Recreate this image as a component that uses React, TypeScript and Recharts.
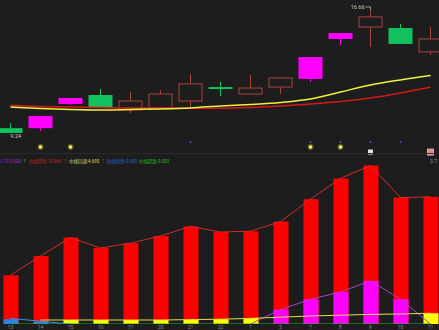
import { Bar, ComposedChart, Line, Scatter, XAxis, YAxis } from 'recharts';

// 日期标签
const days = ['13', '14', '15', '16', '17', '20', '21', '22', '1', '3', '7', '8', '9', '10', '11'];

// K线
const openP = [9.53, 9.53, 10.99, 11.53, 10.63, 10.75, 11.17, 12.01, 11.59, 12.01, 12.5, 14.91, 15.63, 15.57, 14.13];
const closeP = [9.24, 10.27, 11.35, 10.75, 11.17, 11.59, 12.2, 11.89, 11.95, 12.56, 13.82, 15.27, 16.24, 14.61, 14.91];
const highP = [9.84, 10.27, 11.35, 11.89, 11.71, 11.83, 12.8, 12.32, 12.74, 12.56, 13.82, 15.27, 16.66, 15.82, 15.63];
const lowP = [9.24, 9.35, 10.93, 10.75, 10.45, 10.75, 10.75, 11.47, 11.59, 11.59, 12.32, 14.55, 14.43, 14.61, 13.95];
const candleKind = ['down', 'hot', 'hot', 'down', 'up', 'up', 'up', 'down', 'up', 'up', 'hot', 'hot', 'up', 'down', 'up'];

// 均线
const maYellow = [10.81, 10.72, 10.66, 10.63, 10.66, 10.69, 10.75, 10.87, 10.96, 11.08, 11.29, 11.71, 12.13, 12.44, 12.71];
const maRed = [10.9, 10.84, 10.81, 10.78, 10.75, 10.75, 10.73, 10.73, 10.78, 10.87, 10.99, 11.14, 11.35, 11.65, 12.01];

// 信号
const yellowSignal = [1, 2, 10, 11];
const purpleSignal = [6, 10, 11, 12, 13];
const whiteSignal = [12];
const pinkSignal = [14];

// 副图
const trendRed = [6.1, 8.5, 10.8, 9.5, 10.1, 11.0, 12.2, 11.5, 11.6, 12.8, 15.6, 18.2, 19.8, 15.8, 15.9];
const pullPink = [null, null, null, null, null, null, null, null, null, 1.8, 3.1, 4.0, 5.4, 3.1, null];
const pullLine = [null, null, null, null, null, null, null, null, 0, 1.8, 3.1, 4.0, 5.4, 3.1, 0];
const yellowBar = [null, null, 0.5, 0.5, 0.5, 0.5, 0.5, 0.6, 0.75, null, null, null, null, null, 1.35];
const yellowLine = [null, 0.5, 0.5, 0.5, 0.5, 0.5, 0.55, 0.6, 0.7, 0.85, 1.0, 1.1, 1.2, 1.25, 1.35];
const blueBar = [0.6, 0.3, null, null, null, null, null, null, null, null, null, null, null, null, null];
const blueLine = [0.7, 0.35, 0, null, null, null, null, null, null, null, null, null, null, null, null];
const greenLine = [0, 0, 0, 0, 0, 0, 0, 0, 0, 0, 0, 0, 0, 0, 0];

const BG = '#1d1d1d';
const UP = '#a8463e';
const DOWN = '#12c25e';
const HOT = '#ff00ff';

const maxHigh = Math.max(...highP);
const minLow = Math.min(...lowP);

const kData = days.map((d, i) => ({
  i,
  d,
  open: openP[i],
  close: closeP[i],
  high: highP[i],
  low: lowP[i],
  kind: candleKind[i],
  range: [lowP[i], highP[i]],
  ma1: maYellow[i],
  ma2: maRed[i],
}));

const subData = days.map((d, i) => ({
  i,
  d,
  red: trendRed[i],
  pink: pullPink[i],
  pinkLine: pullLine[i],
  yel: yellowBar[i],
  yelLine: yellowLine[i],
  blue: blueBar[i],
  blueLine: blueLine[i],
  green: greenLine[i],
}));

const xDomain = [-0.35, 14.283];
const allTicks = days.map((_, i) => i);

function Candle(props: any) {
  const { x, y, width, height, payload } = props;
  if (x == null || y == null) return null;
  const { open, close, high, low, kind } = payload;
  const top0 = Math.min(y, y + height);
  const h = Math.abs(height);
  const k = h / (high - low || 1);
  const cx = x + width / 2;
  const bTop = top0 + (high - Math.max(open, close)) * k;
  const bBot = top0 + (high - Math.min(open, close)) * k;
  const bh = Math.max(bBot - bTop, 2);
  const col = kind === 'up' ? UP : kind === 'down' ? DOWN : HOT;
  return (
    <g>
      <line x1={cx} x2={cx} y1={top0} y2={bTop} stroke={col} strokeWidth={1} />
      <line x1={cx} x2={cx} y1={bTop + bh} y2={top0 + h} stroke={col} strokeWidth={1} />
      {kind === 'up' ? (
        <rect x={x + 0.5} y={bTop} width={width - 1} height={bh} fill={BG} stroke={col} strokeWidth={1} />
      ) : (
        <rect x={x} y={bTop} width={width} height={bh} fill={col} />
      )}
      {high === maxHigh && (
        <g>
          <text x={cx - 6} y={top0 - 1} fontSize={5.5} fill="#c8c8c8" textAnchor="end" fontFamily="Roboto">
            {high.toFixed(2)}
          </text>
          <line x1={cx - 5} x2={cx} y1={top0 - 3} y2={top0 - 3} stroke="#bbb" strokeWidth={0.8} />
          <line x1={cx} x2={cx} y1={top0 - 3} y2={top0} stroke="#bbb" strokeWidth={0.8} />
        </g>
      )}
      {low === minLow && (
        <text x={cx} y={top0 + h + 5} fontSize={5.5} fill="#c8c8c8" textAnchor="start" fontFamily="Roboto">
          {low.toFixed(2)}
        </text>
      )}
    </g>
  );
}

const sigRow = 8.39;
const dotRow = 8.7;
const boxRow = 8.09;

const legend = [
  { t: 'L:10 0.000', c: '#a024c8' },
  { t: '↑', c: '#30c030' },
  { t: '中线趋势:15.864', c: '#c42424' },
  { t: '↑', c: '#c42424' },
  { t: '中线回调:4.695', c: '#d8d870' },
  { t: '↑', c: '#c42424' },
  { t: '短线趋势:0.000', c: '#2866c8' },
  { t: '中线超跌:0.000', c: '#28b028' },
];

export default function App() {
  return (
    <div style={{ position: 'fixed', left: 0, top: 0, width: 439, height: 330, background: BG, overflow: 'hidden', fontFamily: 'Roboto, "Noto Sans CJK SC", sans-serif' }}>
      <div style={{ position: 'absolute', left: 0, top: 0 }}>
        <ComposedChart width={439} height={160} data={kData} margin={{ top: 0, right: 0, bottom: 0, left: 0 }}>
          <XAxis dataKey="i" type="number" domain={xDomain} ticks={allTicks} hide allowDataOverflow />
          <YAxis domain={[7.61, 17.26]} hide allowDataOverflow />
          <Line dataKey="ma2" type="monotone" stroke="#d41a1a" strokeWidth={1.5} dot={false} activeDot={false} isAnimationActive={false} />
          <Line dataKey="ma1" type="monotone" stroke="#f2f040" strokeWidth={1.5} dot={false} activeDot={false} isAnimationActive={false} />
          <Bar dataKey="range" barSize={24} shape={<Candle />} activeBar={false} isAnimationActive={false} />
          <Scatter
            data={purpleSignal.map((i) => ({ i, v: dotRow }))}
            dataKey="v"
            shape={(p: any) => <circle cx={p.cx} cy={p.cy} r={1} fill={p.payload.i === 13 ? '#4848b0' : '#8a3cb0'} />}
            isAnimationActive={false}
          />
          <Scatter
            data={yellowSignal.map((i) => ({ i, v: sigRow }))}
            dataKey="v"
            shape={(p: any) => (
              <g>
                <circle cx={p.cx} cy={p.cy} r={3} fill="#5a5a20" />
                <circle cx={p.cx} cy={p.cy} r={1.8} fill="#f0f060" />
              </g>
            )}
            isAnimationActive={false}
          />
          <Scatter
            data={whiteSignal.map((i) => ({ i, v: boxRow }))}
            dataKey="v"
            shape={(p: any) => <rect x={p.cx - 2.5} y={p.cy - 2.5} width={5} height={5} fill="#e4e4e4" />}
            isAnimationActive={false}
          />
          <Scatter
            data={pinkSignal.map((i) => ({ i, v: boxRow }))}
            dataKey="v"
            shape={(p: any) => (
              <rect x={p.cx - 3} y={p.cy - 3} width={6} height={6} fill="#e88a8a" stroke="#f4c0c0" strokeWidth={0.8} />
            )}
            isAnimationActive={false}
          />
        </ComposedChart>
      </div>

      <div style={{ position: 'absolute', left: 0, top: 153, width: 439, height: 1, background: '#2a2a2a' }} />

      <div style={{ position: 'absolute', left: 0, top: 158, whiteSpace: 'nowrap', fontSize: 4.5, lineHeight: '7px' }}>
        {legend.map((l, k) => (
          <span key={k} style={{ color: l.c, marginRight: 1.5 }}>{l.t}</span>
        ))}
      </div>
      <div style={{ position: 'absolute', left: 430, top: 158, fontSize: 5, lineHeight: '7px', color: '#9a9a9a' }}>3.7</div>

      <div style={{ position: 'absolute', left: 0, top: 160 }}>
        <ComposedChart width={439} height={170} data={subData} barGap={-15} margin={{ top: 4, right: 0, bottom: 0, left: 0 }}>
          <XAxis
            dataKey="i"
            type="number"
            domain={xDomain}
            ticks={allTicks}
            allowDataOverflow
            height={6}
            tickFormatter={(v) => days[v] ?? ''}
            tick={{ fontSize: 5, fill: '#8a8a8a', fontFamily: 'Roboto' }}
            tickSize={0}
            tickMargin={1}
            axisLine={false}
            tickLine={false}
            interval={0}
          />
          <YAxis domain={[0, 20]} hide allowDataOverflow />
          <Bar dataKey="red" barSize={15} fill="#ff0000" activeBar={false} isAnimationActive={false} />
          <Bar dataKey="pink" barSize={15} fill="#ff00ff" activeBar={false} isAnimationActive={false} />
          <Bar dataKey="yel" barSize={15} fill="#ffff00" activeBar={false} isAnimationActive={false} />
          <Bar dataKey="blue" barSize={15} fill="#2a86e0" activeBar={false} isAnimationActive={false} />
          <Line dataKey="red" type="linear" stroke="#d42a2a" strokeWidth={1} dot={false} activeDot={false} isAnimationActive={false} />
          <Line dataKey="pinkLine" type="linear" stroke="#a844c8" strokeWidth={1} dot={false} activeDot={false} isAnimationActive={false} />
          <Line dataKey="yelLine" type="linear" stroke="#e0e04a" strokeWidth={1} dot={false} activeDot={false} isAnimationActive={false} />
          <Line dataKey="blueLine" type="linear" stroke="#3a90e8" strokeWidth={1} dot={false} activeDot={false} isAnimationActive={false} />
          <Line dataKey="green" type="linear" stroke="#22b022" strokeWidth={1} dot={false} activeDot={false} isAnimationActive={false} />
        </ComposedChart>
      </div>
    </div>
  );
}
